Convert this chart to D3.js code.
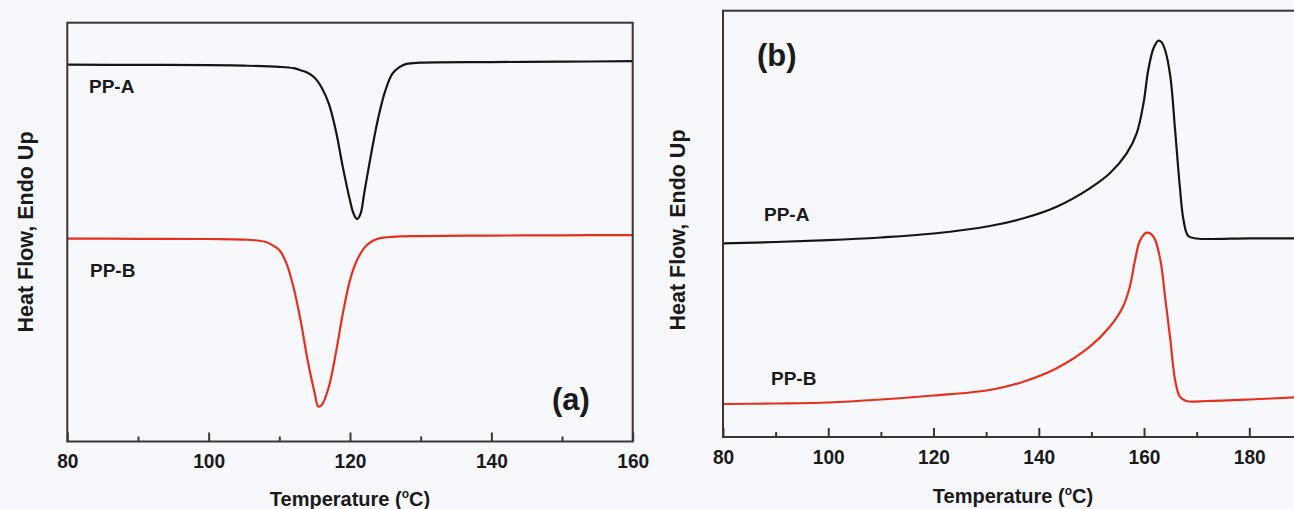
<!DOCTYPE html>
<html>
<head>
<meta charset="utf-8">
<script src="https://cdn.jsdelivr.net/npm/d3@7"></script>
<style>
  body { margin: 0; background: #f7f8fc; }
  svg { display: block; }
  text { font-family: "Liberation Sans", Arial, sans-serif; font-weight: bold; fill: #1a1a1a; }
</style>
</head>
<body>
<div id="container"></div>
<script>
// x ticks
var ticksA = [80, 100, 120, 140, 160],
    minorA = [90, 110, 130, 150],
    ticksB = [80, 100, 120, 140, 160, 180],
    minorB = [90, 110, 130, 150, 170, 190];

// (a) cooling scans, [temperature, heat flow (a.u.)]
var ppaCool = [[80,377],[90,376.8],[100,376.6],[105,376],[110,374.8],[112,373.5],[113,371.5],[114,369],
  [115,364],[116,354],[117,338],[118,311],[119,274],[120,241],[120.5,228],[121,222.5],[121.5,228],
  [122,248],[123,288],[124,324],[125,351],[126,368],[127,374.5],[128,377.8],[130,379],[140,379.6],
  [150,380],[160,380.5]];
var ppbCool = [[80,203],[90,202.8],[100,202.6],[105,202],[108,199.8],[109,196.5],[110,191.5],[111,178.5],
  [112,154.5],[113,121.5],[114,81.5],[115,48.5],[115.5,35],[116,36.5],[117,54.5],[118,88.5],[119,128.5],
  [120,161.5],[121,181.5],[122,193.5],[123,199.8],[124,203],[126,204.8],[130,205.5],[140,206],
  [150,206.3],[160,206.5]];

// (b) heating scans
var ppaHeat = [[80,193.7],[90,195],[100,196.8],[110,199.5],[120,203.5],[130.7,211],[137.1,218.7],
  [143.4,230.3],[149.7,248.7],[153.5,263.7],[156.7,283.7],[158.6,303.7],[159.9,333.7],[160.8,367],
  [161.8,388.7],[162.7,396.3],[163.3,395],[164,387],[165,360.3],[165.9,307],[166.8,250.3],[167.5,217],
  [168.4,201],[170,198.5],[180,198.7],[190,198.7]];
var ppbHeat = [[80,33],[90,33.5],[100,34.5],[110,37.5],[120,41.5],[130.7,47],[137.1,55.3],[143.4,68.7],
  [149.7,90.3],[153.5,110.3],[156,130.3],[157.3,150.3],[158.3,177],[159.2,196],[160.5,204.3],
  [161.8,200.3],[163.1,177],[164,140],[165,97],[165.9,57],[166.8,40.3],[168,36],[172,36],[180,37.5],
  [190,40]];

var W = 1294, H = 509;
var frameColor = '#3b3636';

var svg = d3.select('#container').append('svg')
    .attr('width', W)
    .attr('height', H);

svg.append('rect').attr('width', W).attr('height', H).attr('fill', '#f7f8fc');

function drawPanel(p) {
    var x = d3.scaleLinear().domain(p.xDomain).range([p.left, p.right]);
    var y = d3.scaleLinear().domain(p.yDomain).range([p.bottom, p.top]);
    var g = svg.append('g');

    // curves
    var line = d3.line()
        .x(d => x(d[0]))
        .y(d => y(d[1]))
        .curve(d3.curveCatmullRom.alpha(0.5));
    p.series.forEach(function(s) {
        g.append('path')
            .datum(s.data)
            .attr('fill', 'none')
            .attr('stroke', s.color)
            .attr('stroke-width', 2.2)
            .attr('stroke-linejoin', 'round')
            .attr('d', line);
        g.append('text')
            .attr('x', s.lx)
            .attr('y', s.ly)
            .style('font-size', '19px')
            .text(s.name);
    });

    // frame
    g.append('rect')
        .attr('x', p.left)
        .attr('y', p.top)
        .attr('width', p.right - p.left)
        .attr('height', p.bottom - p.top)
        .attr('fill', 'none')
        .attr('stroke', frameColor)
        .attr('stroke-width', 2);

    // major ticks, pointing inward
    var major = g.append('g')
        .attr('transform', 'translate(0,' + p.bottom + ')')
        .call(d3.axisBottom(x).tickValues(p.ticks).tickSizeInner(-9).tickSizeOuter(0).tickPadding(12).tickFormat(d3.format('d')));
    major.select('.domain').remove();
    major.selectAll('line').attr('stroke', frameColor).attr('stroke-width', 2);
    major.selectAll('text')
        .style('font-size', '21px')
        .attr('transform', 'scale(0.91,1)')
        .attr('x', 0);

    // minor ticks
    var minor = g.append('g')
        .attr('transform', 'translate(0,' + p.bottom + ')')
        .call(d3.axisBottom(x).tickValues(p.minor).tickSizeInner(-5).tickSizeOuter(0).tickFormat(''));
    minor.select('.domain').remove();
    minor.selectAll('line').attr('stroke', frameColor).attr('stroke-width', 2);

    // axis titles
    var xt = g.append('text')
        .attr('x', p.xTitleX)
        .attr('y', p.xTitleY)
        .attr('text-anchor', 'middle')
        .style('font-size', '20px');
    xt.append('tspan').text('Temperature (');
    xt.append('tspan').attr('dy', -8).style('font-size', '12px').text('o');
    xt.append('tspan').attr('dy', 8).text('C)');

    g.append('text')
        .attr('transform', 'translate(' + p.yTitleX + ',' + p.yTitleY + ') rotate(-90)')
        .attr('text-anchor', 'middle')
        .style('font-size', '21.5px')
        .text('Heat Flow, Endo Up');

    g.append('text')
        .attr('x', p.tagX)
        .attr('y', p.tagY)
        .style('font-size', '31px')
        .text(p.tag);
}

drawPanel({
    xDomain: [80, 160], yDomain: [0, 419],
    left: 67.3, right: 632.7, top: 22.7, bottom: 441.5,
    ticks: ticksA, minor: minorA,
    series: [
        {name: 'PP-A', data: ppaCool, color: '#151515', lx: 89, ly: 93},
        {name: 'PP-B', data: ppbCool, color: '#e5301c', lx: 90, ly: 277}
    ],
    xTitleX: 350, xTitleY: 506, yTitleX: 33, yTitleY: 232,
    tag: '(a)', tagX: 552, tagY: 410
});

drawPanel({
    xDomain: [80, 190], yDomain: [0, 426.3],
    left: 723, right: 723 + 110 * 5.263, top: 10.7, bottom: 437,
    ticks: ticksB, minor: minorB,
    series: [
        {name: 'PP-A', data: ppaHeat, color: '#151515', lx: 764, ly: 221},
        {name: 'PP-B', data: ppbHeat, color: '#e5301c', lx: 771, ly: 385}
    ],
    xTitleX: 1013, xTitleY: 503, yTitleX: 685, yTitleY: 230,
    tag: '(b)', tagX: 757, tagY: 66
});
</script>
</body>
</html>
